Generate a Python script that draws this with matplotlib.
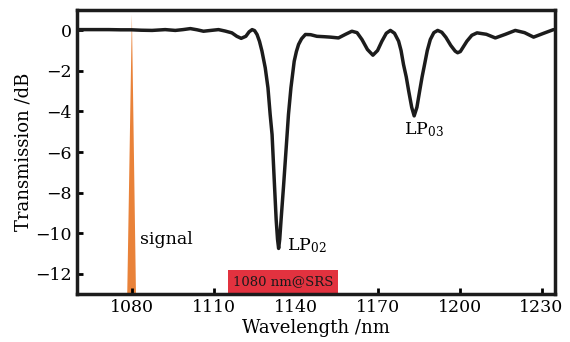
import matplotlib
matplotlib.use("Agg")
import matplotlib.pyplot as plt
from matplotlib.patches import Polygon, Rectangle

# === DATA ===
wavelength = [1059.4, 1065.0, 1071.6, 1076.0, 1080.0, 1083.5, 1087.5, 1092.3, 1096.0,
              1098.8, 1101.5, 1104.0, 1106.3, 1109.0, 1111.8, 1114.2, 1116.7, 1118.5,
              1120.1, 1121.8, 1123.0, 1124.1, 1125.0, 1125.9, 1126.8, 1127.7, 1128.9,
              1129.9, 1130.7, 1131.4, 1132.3, 1132.9, 1133.4, 1133.8, 1134.2, 1134.7,
              1135.6, 1136.9, 1137.4, 1138.3, 1139.5, 1140.3, 1141.1, 1142.2, 1143.6,
              1145.5, 1147.8, 1150.5, 1152.7, 1155.7, 1158.3, 1160.6, 1162.5, 1164.3,
              1166.3, 1168.3, 1170.0, 1171.6, 1173.2, 1174.7, 1176.2, 1177.7, 1178.6,
              1179.5, 1180.5, 1181.4, 1182.5, 1183.4, 1184.4, 1185.4, 1186.3, 1187.2,
              1188.2, 1189.3, 1190.6, 1192.0, 1193.5, 1195.0, 1196.8, 1198.4, 1199.3,
              1200.3, 1202.7, 1204.5, 1206.4, 1209.8, 1213.1, 1216.8, 1220.4, 1223.8,
              1227.1, 1230.8, 1234.4]
transmission = [0.03, 0.03, 0.03, 0.02, 0.02, 0.0, -0.01, 0.03, -0.01,
                0.03, 0.08, 0.02, -0.05, -0.01, 0.03, -0.04, -0.13, -0.3,
                -0.4, -0.3, -0.08, 0.03, -0.02, -0.21, -0.55, -1.03, -1.85,
                -2.84, -4.15, -5.14, -7.68, -9.33, -10.3, -10.75, -10.3, -9.33,
                -7.68, -5.14, -4.15, -2.84, -1.53, -1.05, -0.70, -0.42, -0.21,
                -0.22, -0.30, -0.32, -0.34, -0.38, -0.2, -0.05, -0.12, -0.46,
                -0.95, -1.23, -1.0, -0.54, -0.15, -0.01, -0.15, -0.54, -1.0,
                -1.69, -2.3, -3.0, -3.8, -4.22, -3.8, -3.0, -2.3, -1.69,
                -1.0, -0.46, -0.12, -0.01, -0.1, -0.35, -0.75, -1.03, -1.11,
                -1.05, -0.54, -0.25, -0.13, -0.2, -0.38, -0.2, -0.01, -0.12,
                -0.34, -0.15, 0.03]

signal_base = [1078.4, 1081.6]
signal_peak = (1080.1, 0.78)
srs_band = [1115.3, 1155.7]
xticks = [1080, 1110, 1140, 1170, 1200, 1230]
yticks = [0, -2, -4, -6, -8, -10, -12]

# === PLOT STYLE ===
plt.rcParams['font.family'] = ['DejaVu Serif']
plt.rcParams['mathtext.fontset'] = 'dejavuserif'
fig = plt.figure(figsize=(5.7, 3.42), dpi=100)
ax = fig.add_axes([0.135, 0.14, 0.839, 0.831])

ymin, ymax = -13, 1.0

# signal spike
ax.add_patch(Polygon([(signal_base[0], ymin), (signal_base[1], ymin), signal_peak],
                     closed=True, color='#e98239', lw=0, zorder=1))

# SRS band marker
ax.add_patch(Rectangle((srs_band[0], ymin), srs_band[1] - srs_band[0], 1.2,
                       color='#e2323f', lw=0, zorder=2))
ax.text(sum(srs_band) / 2, ymin + 0.6, '1080 nm@SRS', ha='center', va='center',
        fontsize=9.5, color='#1a1a1a', zorder=3)

ax.plot(wavelength, transmission, color='#1c1c1c', lw=2.5, zorder=4,
        solid_joinstyle='round', solid_capstyle='round')

ax.text(1083.2, -10.3, 'signal', fontsize=12.5, va='center', ha='left')
ax.text(1137.0, -10.6, r'LP$_{\mathrm{02}}$', fontsize=12.5, va='center', ha='left')
ax.text(1179.5, -4.9, r'LP$_{\mathrm{03}}$', fontsize=12.5, va='center', ha='left')

ax.set_xlim(1060, 1235)
ax.set_ylim(ymin, ymax)
ax.set_xticks(xticks)
ax.set_yticks(yticks)
ax.set_yticklabels([str(v).replace('-', '\u2212') for v in yticks])
ax.tick_params(direction='in', length=4, width=2, labelsize=12.5, top=False, right=False)
for s in ax.spines.values():
    s.set_linewidth(2.5)
    s.set_color('#1c1c1c')
ax.set_xlabel('Wavelength /nm', fontsize=13, labelpad=2)
ax.set_ylabel('Transmission /dB', fontsize=13, labelpad=2)

fig.savefig('out.png', dpi=100)
